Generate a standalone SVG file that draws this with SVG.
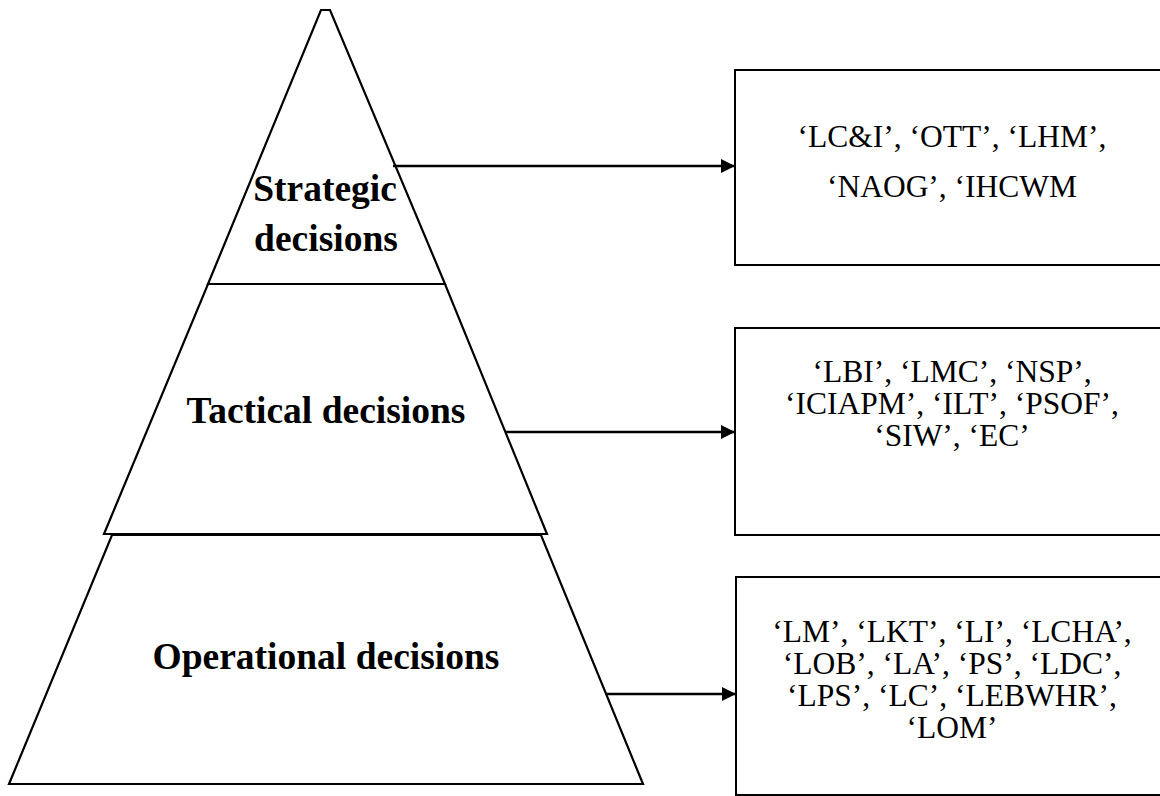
<svg xmlns="http://www.w3.org/2000/svg" width="1160" height="796" viewBox="0 0 1160 796">
  <defs>
    <marker id="arrow" viewBox="0 0 14 14" refX="14" refY="7" markerWidth="14" markerHeight="14" markerUnits="userSpaceOnUse" orient="auto">
      <path d="M0,0 L14,7 L0,14 Z" fill="#000"/>
    </marker>
    <style>
      .shape { fill: #fff; stroke: #000; stroke-width: 2.2; stroke-linejoin: miter; }
      .box { fill: #fff; stroke: #000; stroke-width: 2; }
      .level { font-family: "Liberation Serif", "Times New Roman", serif; font-weight: bold; font-size: 37.5px; fill: #000; text-anchor: middle; }
      .items { font-family: "Liberation Serif", "Times New Roman", serif; font-size: 31.5px; fill: #000; text-anchor: middle; }
      .link { stroke: #000; stroke-width: 2.5; fill: none; marker-end: url(#arrow); }
    </style>
  </defs>
  <rect width="1160" height="796" fill="#fff"/>

  <!-- pyramid levels -->
  <g id="operational">
    <polygon class="shape" points="112,535 541,535 643,784 9,784"/>
    <text class="level" x="326" y="669">Operational decisions</text>
  </g>
  <g id="tactical">
    <polygon class="shape" points="208,284 445,284 547,534 104,534"/>
    <text class="level" x="326" y="423">Tactical decisions</text>
  </g>
  <g id="strategic">
    <polygon class="shape" points="321,10 330,10 445,284 208,284"/>
    <text class="level" x="325" y="201">Strategic</text>
    <text class="level" x="326" y="251">decisions</text>
  </g>

  <!-- item boxes -->
  <g id="strategic-items">
    <rect class="box" x="735" y="70" width="440" height="195"/>
    <text class="items" x="952" y="147">‘LC&amp;I’, ‘OTT’, ‘LHM’,</text>
    <text class="items" x="952" y="197">‘NAOG’, ‘IHCWM</text>
  </g>
  <g id="tactical-items">
    <rect class="box" x="735" y="328" width="440" height="207"/>
    <text class="items" x="952" y="382">‘LBI’, ‘LMC’, ‘NSP’,</text>
    <text class="items" x="952" y="414">‘ICIAPM’, ‘ILT’, ‘PSOF’,</text>
    <text class="items" x="952" y="446">‘SIW’, ‘EC’</text>
  </g>
  <g id="operational-items">
    <rect class="box" x="736" y="577" width="440" height="218"/>
    <text class="items" x="952" y="642">‘LM’, ‘LKT’, ‘LI’, ‘LCHA’,</text>
    <text class="items" x="952" y="674">‘LOB’, ‘LA’, ‘PS’, ‘LDC’,</text>
    <text class="items" x="952" y="706">‘LPS’, ‘LC’, ‘LEBWHR’,</text>
    <text class="items" x="952" y="738">‘LOM’</text>
  </g>

  <!-- connectors -->
  <g id="connectors">
    <line class="link" x1="393" y1="166" x2="735" y2="166"/>
    <line class="link" x1="506" y1="432" x2="735" y2="432"/>
    <line class="link" x1="606" y1="694" x2="736" y2="694"/>
  </g>
</svg>
